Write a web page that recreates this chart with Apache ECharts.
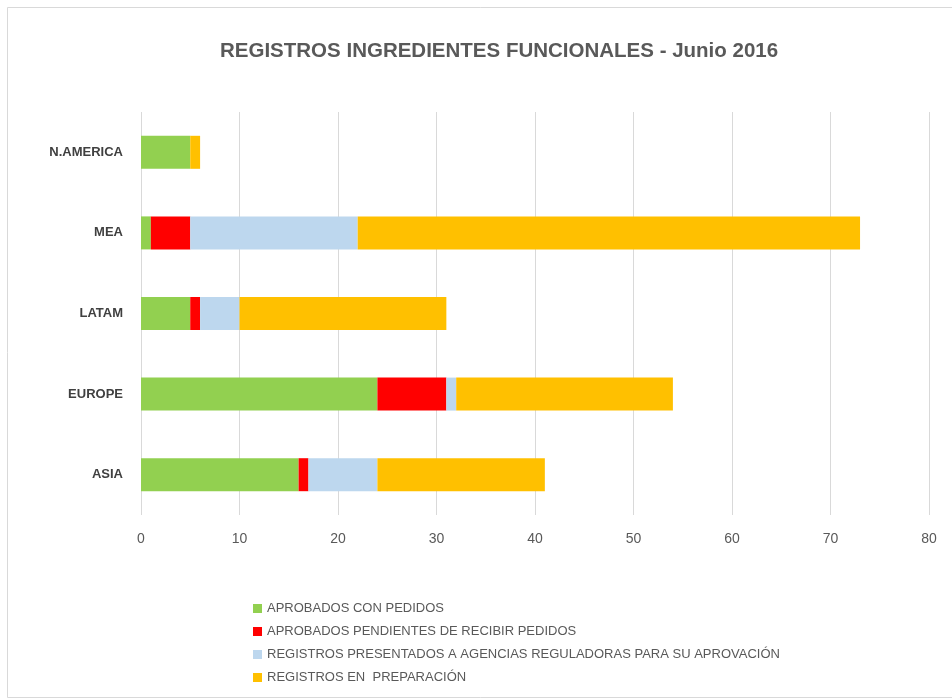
<!DOCTYPE html>
<html>
<head>
<meta charset="utf-8">
<script src="https://cdn.jsdelivr.net/npm/echarts@6/dist/echarts.min.js"></script>
<style>html,body{margin:0;padding:0;background:#fff}#c{width:952px;height:700px}</style>
</head>
<body>
<div id="c"></div>
<script>
const categories = ['ASIA', 'EUROPE', 'LATAM', 'MEA', 'N.AMERICA'];
const seriesNames = [
  'APROBADOS CON PEDIDOS',
  'APROBADOS PENDIENTES DE RECIBIR PEDIDOS',
  'REGISTROS PRESENTADOS A AGENCIAS REGULADORAS PARA SU APROVACIÓN',
  'REGISTROS EN  PREPARACIÓN'
];
const aprobadosConPedidos = [16, 24, 5, 1, 5];
const aprobadosPendientes = [1, 7, 1, 4, 0];
const registrosPresentados = [7, 1, 4, 17, 0];
const registrosPreparacion = [17, 22, 21, 51, 1];
const xTicks = [0, 10, 20, 30, 40, 50, 60, 70, 80];
const colors = ['#92D050', '#FF0000', '#BDD7EE', '#FFC000'];

const values = [aprobadosConPedidos, aprobadosPendientes, registrosPresentados, registrosPreparacion];
const chart = echarts.init(document.getElementById('c'), null, {renderer: 'canvas'});
chart.setOption({
  animation: false,
  backgroundColor: '#ffffff',
  title: {
    text: 'REGISTROS INGREDIENTES FUNCIONALES - Junio 2016',
    left: 215,
    top: 36,
    textStyle: {fontFamily: 'Liberation Sans', fontSize: 20.5, fontWeight: 'bold', color: '#595959'}
  },
  graphic: [{
    type: 'rect',
    shape: {x: 7.5, y: 7.5, width: 960, height: 690},
    style: {fill: 'none', stroke: '#d9d9d9', lineWidth: 1},
    silent: true
  }],
  legend: {
    orient: 'vertical',
    left: 248,
    top: 597,
    itemWidth: 9,
    itemHeight: 9,
    itemGap: 10,
    icon: 'rect',
    data: seriesNames,
    textStyle: {fontFamily: 'Liberation Sans', fontSize: 13, color: '#595959'}
  },
  grid: {left: 141, right: 23, top: 112, bottom: 185, containLabel: false},
  xAxis: {
    type: 'value',
    min: xTicks[0],
    max: xTicks[xTicks.length - 1],
    interval: 10,
    axisLine: {show: false},
    axisTick: {show: false},
    splitLine: {show: true, lineStyle: {color: '#d9d9d9', width: 1}},
    axisLabel: {margin: 17, fontFamily: 'Liberation Sans', fontSize: 14, color: '#595959'}
  },
  yAxis: {
    type: 'category',
    data: categories,
    axisLine: {show: false},
    axisTick: {show: false},
    axisLabel: {margin: 18, fontFamily: 'Liberation Sans', fontSize: 13, fontWeight: 'bold', color: '#404040'}
  },
  series: seriesNames.map((n, i) => ({
    name: n,
    type: 'bar',
    stack: 'total',
    barWidth: 33,
    itemStyle: {color: colors[i]},
    data: values[i]
  }))
});
</script>
</body>
</html>
